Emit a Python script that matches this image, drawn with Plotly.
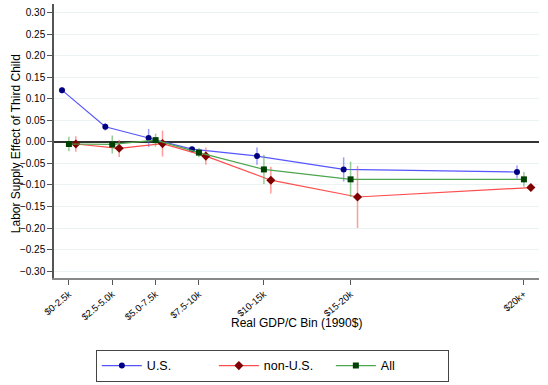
import plotly.graph_objects as go

bins = ["$0-2.5k", "$2.5-5.0k", "$5.0-7.5k", "$7.5-10k", "$10-15k", "$15-20k", "$20k+"]
bin_pos = [1.25, 3.75, 6.25, 8.75, 12.5, 17.5, 27.5]

us = [0.120, 0.035, 0.009, -0.017, -0.033, -0.064, -0.070]
us_err = [0.007, 0.009, 0.021, 0.004, 0.020, 0.028, 0.015]
nonus = [-0.005, -0.015, -0.004, -0.033, -0.089, -0.128, -0.106]
nonus_err = [0.018, 0.020, 0.030, 0.020, 0.031, 0.072, 0.005]
allc = [-0.005, -0.006, 0.004, -0.025, -0.064, -0.087, -0.087]
all_err = [0.017, 0.021, 0.015, 0.011, 0.034, 0.041, 0.017]

off = 0.4
fig = go.Figure()

def add(name, xs, ys, err, lc, mc, ec, sym, size):
    fig.add_trace(go.Scatter(
        x=xs, y=ys, name=name, mode="lines+markers",
        line=dict(color=lc, width=1.2),
        marker=dict(color=mc, symbol=sym, size=size),
        error_y=dict(type="data", array=err, visible=True, color=ec, thickness=1.5, width=0),
    ))

add("U.S.", [p - off for p in bin_pos], us, us_err, "#5555ff", "#000080", "rgba(90,90,255,0.6)", "circle", 6)
add("non-U.S.", [p + off for p in bin_pos], nonus, nonus_err, "#ff4d4d", "#800000", "rgba(255,90,90,0.6)", "diamond", 7)
add("All", bin_pos, allc, all_err, "#4da64d", "#004000", "rgba(80,170,80,0.6)", "square", 6)

fig.update_layout(
    width=548, height=385,
    margin=dict(l=54, r=9, t=4, b=107),
    paper_bgcolor="white", plot_bgcolor="white",
    font=dict(family="Liberation Sans, Arial, sans-serif", color="#000", size=11),
    showlegend=True,
    legend=dict(orientation="h", x=0.497, xanchor="center", y=0.091, yanchor="top",
                yref="container", xref="container",
                bordercolor="#444", borderwidth=1, font=dict(size=12.5),
                entrywidth=62, itemwidth=40, tracegroupgap=0),
    xaxis=dict(
        range=[0.39, 28.37], tickvals=bin_pos, ticktext=bins, tickangle=-40,
        automargin=False,
        showgrid=False, zeroline=False, showline=True, linecolor="#888", linewidth=2,
        ticks="outside", ticklen=5, tickcolor="#555", tickfont=dict(size=9.5),
    ),
    yaxis=dict(
        range=[-0.316, 0.320], tickvals=[round(-0.30 + 0.05 * i, 2) for i in range(13)],
        tickformat=".2f", showgrid=True, gridcolor="#eaf2f3", gridwidth=1,
        automargin=False,
        zeroline=True, zerolinecolor="#333", zerolinewidth=2,
        showline=True, linecolor="#555", linewidth=1.5,
        ticks="outside", ticklen=5, tickcolor="#555", tickfont=dict(size=10),
    ),
    annotations=[
        dict(text="Real GDP/C Bin (1990$)", xref="paper", yref="paper", x=0.5, y=-0.164,
             xanchor="center", yanchor="middle", showarrow=False, font=dict(size=12)),
        dict(text="Labor Supply Effect of Third Child", xref="paper", yref="paper",
             x=-0.0795, y=0.49, xanchor="center", yanchor="middle", textangle=-90,
             showarrow=False, font=dict(size=12)),
    ],
)

fig.write_html("out.html", config={"displayModeBar": False},
               post_script="document.body.style.margin='0px';")
